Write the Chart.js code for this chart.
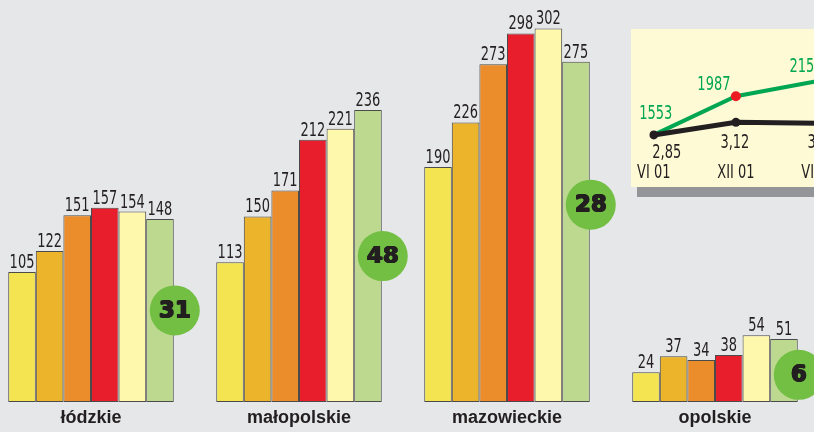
<!DOCTYPE html>
<html>
<head>
<meta charset="utf-8">
<script src="https://cdn.jsdelivr.net/npm/chart.js@4.4.1/dist/chart.umd.min.js"></script>
<style>
  html, body { margin: 0; padding: 0; width: 814px; height: 432px; overflow: hidden; background: #e6e7e8; }
  #main { position: absolute; left: -13px; top: 0; }
  #inset { position: absolute; left: 631px; top: 29px; width: 300px; height: 158px; background: #fefad6; box-shadow: 6px 10px 0 #939598; z-index: 2; }
  #insetCanvas { position: absolute; left: 0; top: 0; }
</style>
</head>
<body>
<canvas id="main" width="832" height="434"></canvas>
<div id="inset"><canvas id="insetCanvas" width="300" height="158"></canvas></div>
<script>
// ---- data ----
const regions = ['łódzkie', 'małopolskie', 'mazowieckie', 'opolskie'];
const series1 = [105, 113, 190, 24];
const series2 = [122, 150, 226, 37];
const series3 = [151, 171, 273, 34];
const series4 = [157, 212, 298, 38];
const series5 = [154, 221, 302, 54];
const series6 = [148, 236, 275, 51];
const badges = [31, 48, 28, 6];

const insetLabels = ['VI 01', 'XII 01', 'VI 02'];
const greenValues = [1553, 1987, 2158];
const blackValues = [2.85, 3.12, 3.10];

// ---- styles ----
const barColors = ['#f4e451', '#ebb42a', '#ec8d2c', '#e81e2c', '#fef8ad', '#bcd98f'];
const condensed = '"DejaVu Sans Condensed", "DejaVu Sans", sans-serif';
const ink = '#231f20';

function drawNarrow(ctx, text, x, y, sx) {
  ctx.save();
  ctx.translate(x, y);
  ctx.scale(sx, 1);
  ctx.fillText(text, 0, 0);
  ctx.restore();
}

const valueLabelPlugin = {
  id: 'valueLabels',
  afterDatasetsDraw(chart) {
    const ctx = chart.ctx;
    ctx.save();
    ctx.font = '19px ' + condensed;
    ctx.fillStyle = ink;
    ctx.textAlign = 'center';
    ctx.textBaseline = 'alphabetic';
    chart.data.datasets.forEach((ds, di) => {
      const meta = chart.getDatasetMeta(di);
      meta.data.forEach((bar, i) => {
        drawNarrow(ctx, String(ds.data[i]), bar.x, bar.y - 4, 0.76);
      });
    });
    ctx.restore();
  }
};

const badgePlugin = {
  id: 'badges',
  afterDatasetsDraw(chart, args, opts) {
    const ctx = chart.ctx;
    const lastIdx = chart.data.datasets.length - 1;
    const last = chart.getDatasetMeta(lastIdx);
    const ds = chart.data.datasets[lastIdx];
    const yScale = chart.scales.y;
    ctx.save();
    last.data.forEach((bar, i) => {
      const cx = bar.x + bar.width / 2 + 1;
      const cy = yScale.getPixelForValue(ds.data[i] * opts.levels[i]);
      ctx.beginPath();
      ctx.arc(cx, cy, 25, 0, Math.PI * 2);
      ctx.fillStyle = '#72bf44';
      ctx.fill();
      ctx.font = 'bold 23px "DejaVu Sans", sans-serif';
      ctx.textAlign = 'center';
      ctx.textBaseline = 'middle';
      ctx.fillStyle = ink;
      for (const dx of [-0.6, 0, 0.6]) {
        for (const dy of [-0.4, 0.4]) {
          ctx.fillText(String(badges[i]), cx + dx, cy + 1 + dy);
        }
      }
    });
    ctx.restore();
  }
};

const allSeries = [series1, series2, series3, series4, series5, series6];

new Chart(document.getElementById('main'), {
  type: 'bar',
  data: {
    labels: regions,
    datasets: allSeries.map((s, i) => ({
      data: s,
      backgroundColor: barColors[i],
      borderColor: '#4b4b4b',
      borderWidth: 1,
      borderSkipped: false,
      categoryPercentage: 0.796,
      barPercentage: 1.0
    }))
  },
  options: {
    responsive: false,
    animation: false,
    events: [],
    layout: { padding: 0 },
    plugins: {
      legend: { display: false },
      tooltip: { enabled: false },
      badges: { levels: [0.5, 0.5, 0.58, 0.43] }
    },
    scales: {
      x: {
        display: true,
        grid: { display: false, drawTicks: false },
        border: { display: false },
        ticks: { padding: 5.2, color: ink, font: { family: '"Liberation Sans", Arial, sans-serif', size: 18, weight: 'bold' } }
      },
      y: { display: false, min: 0, max: 325 }
    }
  },
  plugins: [valueLabelPlugin, badgePlugin]
});

const insetLabelPlugin = {
  id: 'insetLabels',
  afterDatasetsDraw(chart, args, opts) {
    const ctx = chart.ctx;
    ctx.save();
    ctx.font = '19px ' + condensed;
    ctx.textAlign = 'center';
    ctx.textBaseline = 'middle';
    chart.data.datasets.forEach((ds, di) => {
      const meta = chart.getDatasetMeta(di);
      const offs = opts.offsets[di];
      ctx.fillStyle = opts.colors[di];
      meta.data.forEach((pt, i) => {
        const txt = di === 1 ? ds.data[i].toFixed(2).replace('.', ',') : String(ds.data[i]);
        drawNarrow(ctx, txt, pt.x + offs[i][0], pt.y + offs[i][1], 0.76);
      });
    });
    // category labels, placed on the x scale's ticks
    const xs = chart.scales.x;
    ctx.fillStyle = ink;
    chart.data.labels.forEach((lab, i) => {
      drawNarrow(ctx, lab, xs.getPixelForTick(i), xs.top + 2 + 10.8, 0.76);
    });
    ctx.restore();
  }
};

new Chart(document.getElementById('insetCanvas'), {
  type: 'line',
  data: {
    labels: insetLabels,
    datasets: [
      {
        data: greenValues,
        yAxisID: 'yG',
        borderColor: '#00a651',
        borderWidth: 4,
        pointRadius: ctx => ctx.dataIndex === 1 ? 5 : 0,
        pointBackgroundColor: '#ed1c24',
        pointBorderWidth: 0,
        tension: 0,
        order: 1
      },
      {
        data: blackValues,
        yAxisID: 'yB',
        borderColor: ink,
        borderWidth: 5,
        pointRadius: 4.5,
        pointBackgroundColor: ink,
        pointBorderWidth: 0,
        tension: 0,
        order: 0
      }
    ]
  },
  options: {
    responsive: false,
    animation: false,
    events: [],
    layout: { padding: { left: 19, right: 113, top: 0, bottom: 1.2 } },
    plugins: {
      legend: { display: false },
      tooltip: { enabled: false },
      insetLabels: {
        colors: ['#00a651', ink],
        offsets: [
          [[2, -21], [-22, -11], [-12, -14]],
          [[13, 18], [-1, 21], [4, 20]]
        ]
      }
    },
    scales: {
      x: {
        display: true,
        offset: false,
        grid: { display: false, drawTicks: false },
        border: { display: false },
        ticks: { padding: 2, color: 'rgba(0,0,0,0)', maxRotation: 0, autoSkip: false, font: { family: condensed, size: 18 } }
      },
      yG: { display: false, min: 1269, max: 2692 },
      yB: { display: false, min: 2.306, max: 5.031 }
    }
  },
  plugins: [insetLabelPlugin]
});
</script>
</body>
</html>
